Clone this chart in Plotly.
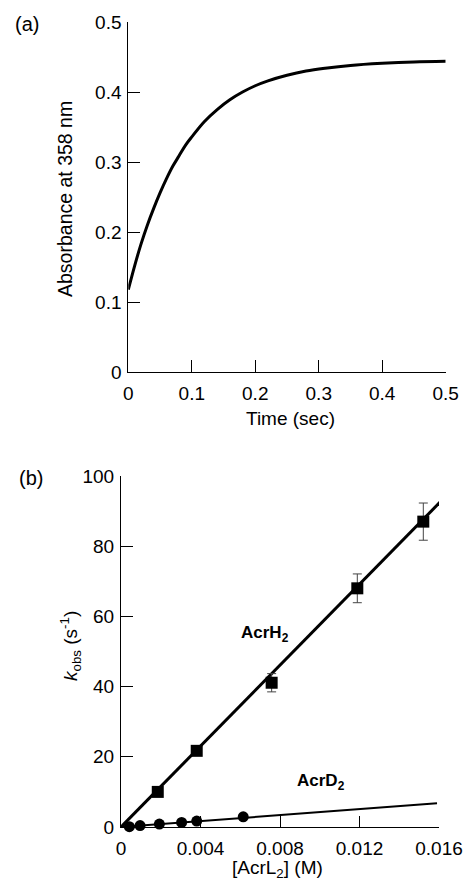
import plotly.graph_objects as go

# ---------------- data ----------------
# (a) absorbance trace
time_s = [0.0, 0.01, 0.02, 0.03, 0.04, 0.05, 0.06, 0.07, 0.08, 0.09, 0.10,
          0.12, 0.14, 0.16, 0.18, 0.20, 0.22, 0.25, 0.28, 0.31, 0.35,
          0.40, 0.45, 0.50]
absorbance = [0.118, 0.152, 0.183, 0.210, 0.234, 0.256, 0.276, 0.294, 0.309,
              0.324, 0.336, 0.358, 0.375, 0.389, 0.400, 0.409, 0.416, 0.424,
              0.430, 0.434, 0.438, 0.441, 0.443, 0.444]

# (b) kobs vs [AcrL2]
h2_conc = [0.00185, 0.00381, 0.00758, 0.01189, 0.01521]
h2_kobs = [10.0, 21.7, 41.1, 68.0, 87.0]
h2_err = [0.8, 1.0, 2.6, 4.1, 5.3]
h2_fit_x = [0.0, 0.0162]
h2_fit_y = [0.0, 93.4]

d2_conc = [0.00042, 0.00096, 0.00193, 0.00305, 0.00381, 0.00615]
d2_kobs = [0.1, 0.4, 0.85, 1.3, 1.7, 2.9]
d2_fit_x = [0.0, 0.0159]
d2_fit_y = [0.0, 6.75]

a_ticks = [0, 0.1, 0.2, 0.3, 0.4, 0.5]
a_ticktext = ["0", "0.1", "0.2", "0.3", "0.4", "0.5"]
b_xticks = [0, 0.004, 0.008, 0.012, 0.016]
b_xticktext = ["0", "0.004", "0.008", "0.012", "0.016"]
b_yticks = [0, 20, 40, 60, 80, 100]
b_yticktext = ["0", "20", "40", "60", "80", "100"]

# ---------------- layout helpers ----------------
W, H = 465, 880
FONT = "Liberation Sans"


def fx(px):
    return px / W


def fy(py):
    return 1 - py / H


fig = go.Figure()

# panel (a)
fig.add_trace(go.Scatter(x=time_s, y=absorbance, mode="lines",
                         line=dict(color="black", width=3, shape="spline"),
                         xaxis="x", yaxis="y", hoverinfo="skip"))

# panel (b)
fig.add_trace(go.Scatter(x=h2_fit_x, y=h2_fit_y, mode="lines",
                         line=dict(color="black", width=3),
                         xaxis="x2", yaxis="y2"))
fig.add_trace(go.Scatter(x=d2_fit_x, y=d2_fit_y, mode="lines",
                         line=dict(color="black", width=2),
                         xaxis="x2", yaxis="y2"))
fig.add_trace(go.Scatter(x=h2_conc, y=h2_kobs, mode="markers",
                         marker=dict(symbol="square", size=12, color="black"),
                         error_y=dict(type="data", array=h2_err, visible=True,
                                      color="#444444", thickness=1, width=4.5),
                         cliponaxis=False, xaxis="x2", yaxis="y2"))
fig.add_trace(go.Scatter(x=d2_conc, y=d2_kobs, mode="markers",
                         marker=dict(symbol="circle", size=11, color="black"),
                         cliponaxis=False, xaxis="x2", yaxis="y2"))

axis_common = dict(showgrid=False, zeroline=False, showline=True,
                   automargin=False,
                   linecolor="black", linewidth=1, ticks="inside",
                   tickcolor="black", tickwidth=1,
                   tickfont=dict(family=FONT, size=19, color="black"))
x_common = dict(ticklabelstandoff=4, **axis_common)
y_common = dict(ticklabelstandoff=2, **axis_common)

fig.update_layout(
    template="none",
    width=W, height=H,
    autosize=False,
    margin=dict(l=0, r=0, t=0, b=0, pad=0),
    paper_bgcolor="white", plot_bgcolor="white",
    showlegend=False,
    font=dict(family=FONT, size=19, color="black"),
    xaxis=dict(domain=[fx(128.3), fx(445.7)], range=[0, 0.5], anchor="y",
               tickvals=a_ticks, ticktext=a_ticktext, ticklen=12,
               **x_common),
    yaxis=dict(domain=[fy(372.3), fy(22)], range=[0, 0.5], anchor="x",
               tickvals=a_ticks, ticktext=a_ticktext, ticklen=12,
               **y_common),
    xaxis2=dict(domain=[fx(121), fx(439)], range=[0, 0.016], anchor="y2",
                tickvals=b_xticks, ticktext=b_xticktext, ticklen=11,
                **x_common),
    yaxis2=dict(domain=[fy(827), fy(476)], range=[0, 100], anchor="x2",
                tickvals=b_yticks, ticktext=b_yticktext, ticklen=12,
                **y_common),
)


def ann(text, x, y, size=19, angle=0, bold=False):
    if bold:
        text = "<b>" + text + "</b>"
    fig.add_annotation(text=text, x=fx(x), y=fy(y), xref="paper", yref="paper",
                       showarrow=False, textangle=angle,
                       xanchor="center", yanchor="middle",
                       font=dict(family=FONT, size=size, color="black"))


ann("(a)", 27, 24, size=20)
ann("(b)", 31, 478, size=20)
ann("Absorbance at 358 nm", 65, 199, size=19.5, angle=-90)
ann("Time (sec)", 290, 419)
ann("<i>k</i><sub>obs</sub> (s<sup>-1</sup>)", 70, 646, angle=-90)
ann("[AcrL<sub>2</sub>] (M)", 277, 869)
ann("AcrH<sub>2</sub>", 265, 634, size=17, bold=True)
ann("AcrD<sub>2</sub>", 321, 782, size=17, bold=True)

fig.write_html("out.html",
               config={"displayModeBar": False},
               post_script="document.body.style.margin='0';"
                           "document.body.style.padding='0';"
                           "document.body.style.overflow='hidden';")
